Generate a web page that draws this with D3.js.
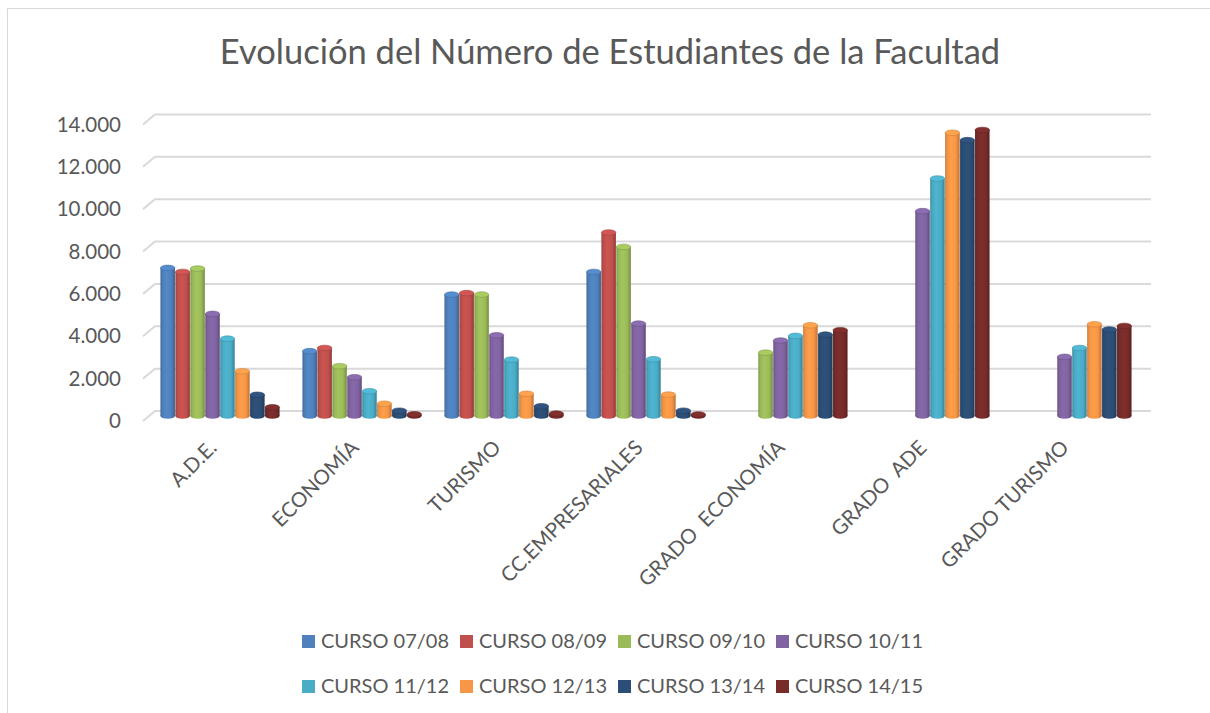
<!DOCTYPE html>
<html>
<head>
<meta charset="utf-8">
<script src="https://cdn.jsdelivr.net/npm/d3@7"></script>
<style>
  body { margin: 0; background: #fff; }
  svg { display: block; font-family: Lato, "Open Sans", sans-serif; }
</style>
</head>
<body>
<div id="chart"></div>
<script>
const width = 1210;
const height = 713;

const categories = ["A.D.E.", "ECONOMÍA", "TURISMO", "CC.EMPRESARIALES", "GRADO  ECONOMÍA", "GRADO  ADE", "GRADO TURISMO"];
const seriesNames = ["CURSO 07/08", "CURSO 08/09", "CURSO 09/10", "CURSO 10/11", "CURSO 11/12", "CURSO 12/13", "CURSO 13/14", "CURSO 14/15"];
const colors = ["#4F81BD", "#C0504D", "#9BBB59", "#8064A2", "#4BACC6", "#F79646", "#2C4D75", "#772C2A"];

// one array per course, in category order
const curso0708 = [6990, 3060, 5730, 6800, null, null, null];
const curso0809 = [6800, 3210, 5800, 8660, null, null, null];
const curso0910 = [6960, 2350, 5730, 7980, 2990, null, null];
const curso1011 = [4820, 1830, 3810, 4360, 3560, 9670, 2790];
const curso1112 = [3650, 1170, 2660, 2680, 3780, 11210, 3210];
const curso1213 = [2110, 580, 1050, 1010, 4280, 13370, 4330];
const curso1314 = [1000, 250, 460, 250, 3840, 13020, 4080];
const curso1415 = [410, 80, 110, 70, 4050, 13500, 4250];
const seriesValues = [curso0708, curso0809, curso0910, curso1011, curso1112, curso1213, curso1314, curso1415];

const yTicks = [0, 2000, 4000, 6000, 8000, 10000, 12000, 14000];

const es = d3.formatLocale({decimal: ",", thousands: ".", grouping: [3], currency: ["", " €"]});
const fmt = es.format(",d");

const depthX = 12, depthY = 10;   // offset of front plane vs back wall

let svg = d3.select("#chart").append("svg")
    .attr("width", width)
    .attr("height", height);

// chart border (top and left)
svg.append("path")
    .attr("d", `M7.5,${height} V8.5 H${width}`)
    .attr("fill", "none")
    .attr("stroke", "#d9d9d9")
    .attr("stroke-width", 1);

svg.append("text")
    .attr("x", 610)
    .attr("y", 64)
    .attr("text-anchor", "middle")
    .attr("font-size", 34.5)
    .attr("fill", "#595959")
    .text("Evolución del Número de Estudiantes de la Facultad");

let x = d3.scaleBand()
    .domain(categories)
    .range([149, 1143])
    .paddingInner(0.155)
    .paddingOuter(0.0775);

let xs = d3.scaleBand()
    .domain(d3.range(seriesNames.length))
    .range([0, x.bandwidth()])
    .padding(0.03);

let y = d3.scaleLinear()
    .domain([0, 14000])
    .range([411, 114.4]);

// gridlines on the back wall, with the slanted floor edge on the left
let grid = svg.append("g");
grid.selectAll("path")
    .data(yTicks)
    .join("path")
    .attr("d", d => `M${155 - depthX},${y(d) + depthY} L155,${y(d)} L1151,${y(d)}`)
    .attr("fill", "none")
    .attr("stroke", "#d9d9d9")
    .attr("stroke-width", 2);

grid.selectAll("text")
    .data(yTicks)
    .join("text")
    .attr("x", 121)
    .attr("y", d => y(d) + depthY)
    .attr("dy", "0.35em")
    .attr("text-anchor", "end")
    .attr("font-size", 20.5)
    .attr("fill", "#595959")
    .text(d => fmt(d));

// cylinder shading
let defs = svg.append("defs");
colors.forEach((c, i) => {
    let g = defs.append("linearGradient")
        .attr("id", "cyl" + i)
        .attr("x1", 0).attr("x2", 1).attr("y1", 0).attr("y2", 0);
    g.append("stop").attr("offset", 0).attr("stop-color", d3.color(c).darker(0.7));
    g.append("stop").attr("offset", 0.12).attr("stop-color", d3.color(c).darker(0.1));
    g.append("stop").attr("offset", 0.4).attr("stop-color", d3.color(c).brighter(0.15));
    g.append("stop").attr("offset", 0.75).attr("stop-color", c);
    g.append("stop").attr("offset", 1).attr("stop-color", d3.color(c).darker(0.8));
});

const mid = depthY / 2;   // bars sit halfway between wall and front
const ry = 2.8;

let bars = [];
seriesValues.forEach((vals, s) => {
    vals.forEach((v, c) => {
        if (v != null) bars.push({s: s, cat: categories[c], v: v});
    });
});

let barG = svg.append("g")
    .selectAll("g")
    .data(bars)
    .join("g");

barG.append("ellipse")
    .attr("cx", d => x(d.cat) + xs(d.s) + xs.bandwidth() / 2)
    .attr("cy", y(0) + mid)
    .attr("rx", xs.bandwidth() / 2)
    .attr("ry", ry)
    .attr("fill", d => `url(#cyl${d.s})`);

barG.append("rect")
    .attr("x", d => x(d.cat) + xs(d.s))
    .attr("y", d => y(d.v) + mid)
    .attr("width", xs.bandwidth())
    .attr("height", d => y(0) - y(d.v))
    .attr("fill", d => `url(#cyl${d.s})`);

barG.append("ellipse")
    .attr("cx", d => x(d.cat) + xs(d.s) + xs.bandwidth() / 2)
    .attr("cy", d => y(d.v) + mid)
    .attr("rx", xs.bandwidth() / 2)
    .attr("ry", ry)
    .attr("fill", d => d3.color(colors[d.s]).brighter(0.25))
    .attr("stroke", d => d3.color(colors[d.s]).darker(0.5))
    .attr("stroke-width", 0.6);

// category labels, rotated
svg.append("g")
    .selectAll("text")
    .data(categories)
    .join("text")
    .attr("transform", d => `translate(${x(d) + x.bandwidth() / 2 - 2},${449}) rotate(-45)`)
    .attr("text-anchor", "end")
    .attr("font-size", 20.5)
    .attr("fill", "#595959")
    .style("white-space", "pre")
    .text(d => d);

// legend, two rows of four
let legend = svg.append("g")
    .selectAll("g")
    .data(seriesNames)
    .join("g")
    .attr("transform", (d, i) => `translate(${302 + (i % 4) * 158},${641 + Math.floor(i / 4) * 45})`);

legend.append("rect")
    .attr("x", 0)
    .attr("y", -6)
    .attr("width", 13)
    .attr("height", 13)
    .attr("fill", (d, i) => colors[i]);

legend.append("text")
    .attr("x", 19)
    .attr("dy", "0.35em")
    .attr("font-size", 20)
    .attr("fill", "#595959")
    .text(d => d);
</script>
</body>
</html>
